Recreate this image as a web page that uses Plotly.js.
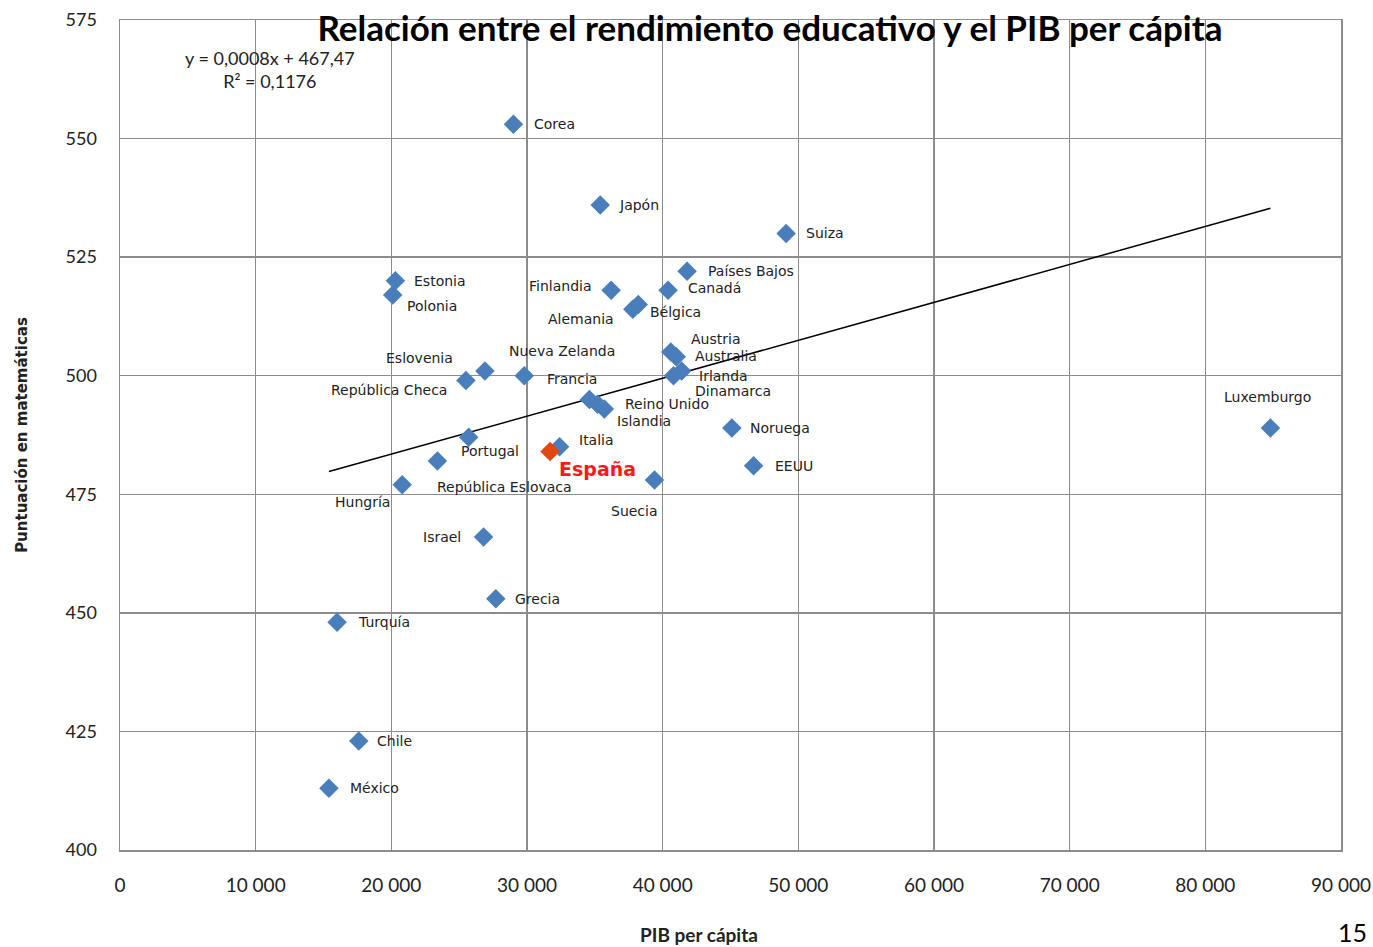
<!DOCTYPE html>
<html>
<head>
<meta charset="utf-8">
<script src="https://cdn.plot.ly/plotly-3.0.1.min.js"></script>
<style>
  html, body { margin: 0; padding: 0; background: #fff; }
  #chart { width: 1373px; height: 947px; }
</style>
</head>
<body>
<div id="chart"></div>
<script>
// países (OCDE), PIB per cápita y puntuación en matemáticas
var countries = ["Corea", "Japón", "Suiza", "Países Bajos", "Finlandia", "Canadá",
  "Alemania", "Bélgica", "Estonia", "Polonia", "Eslovenia", "República Checa",
  "Nueva Zelanda", "Austria", "Australia", "Irlanda", "Dinamarca", "Francia",
  "Reino Unido", "Islandia", "Noruega", "Luxemburgo", "EEUU", "Italia", "España",
  "Portugal", "República Eslovaca", "Hungría", "Suecia", "Israel", "Grecia",
  "Turquía", "Chile", "México"];
var gdp = [29000, 35400, 49100, 41800, 36200, 40400,
  37800, 38200, 20300, 20100, 26900, 25500,
  29800, 40600, 41000, 41400, 40800, 34600,
  35200, 35700, 45100, 84800, 46700, 32400, 31700,
  25700, 23400, 20800, 39400, 26800, 27700,
  16000, 17600, 15400];
var score = [553, 536, 530, 522, 518, 518,
  514, 515, 520, 517, 501, 499,
  500, 505, 504, 501, 500, 495,
  494, 493, 489, 489, 481, 485, 484,
  487, 482, 477, 478, 466, 453,
  448, 423, 413];

// desplazamiento de cada etiqueta respecto a su punto (px)
var labelDx = [41, 39, 39, 64, -51, 46, -52, 37, 45, 39, -65, -77,
  38, 45, 50, 42, 59, -17, 69, 40, 48, -3, 40, 37, 47,
  21, 67, -40, -20, -42, 42, 47, 36, 46];
var labelDy = [0, 0, 0, 0, 4, 2, -10, -7, 0, -11, 13, -10,
  25, 13, 1, -5, -15, 20, 0, -12, 0, 31, 0, 7, -17,
  -14, -26, -17, -31, 0, 0, 0, 0, 0];

// línea de tendencia
var slope = 0.0008;
var intercept = 467.47;
var r2 = 0.1176;

var xTicks = [0, 10000, 20000, 30000, 40000, 50000, 60000, 70000, 80000, 90000];
var xTickText = ["0", "10 000", "20 000", "30 000", "40 000", "50 000", "60 000", "70 000", "80 000", "90 000"];
var yTicks = [400, 425, 450, 475, 500, 525, 550, 575];

var highlight = "España";

var blue = "#4a7ebb";
var red = "#e2470f";

var others = countries.map(function (c, i) { return i; }).filter(function (i) { return countries[i] !== highlight; });
var hi = countries.indexOf(highlight);

var xMin = Math.min.apply(null, gdp);
var xMax = Math.max.apply(null, gdp);

var traces = [
  {
    x: [xMin, xMax],
    y: [slope * xMin + intercept, slope * xMax + intercept],
    mode: "lines",
    line: { color: "#000", width: 1.5 },
    hoverinfo: "skip"
  },
  {
    x: others.map(function (i) { return gdp[i]; }),
    y: others.map(function (i) { return score[i]; }),
    text: others.map(function (i) { return countries[i]; }),
    mode: "markers",
    marker: { symbol: "diamond", size: 15, color: blue },
    hovertemplate: "%{text}: %{x}, %{y}<extra></extra>"
  },
  {
    x: [gdp[hi]],
    y: [score[hi]],
    text: [highlight],
    mode: "markers",
    marker: { symbol: "diamond", size: 15, color: red },
    hovertemplate: "%{text}: %{x}, %{y}<extra></extra>"
  }
];

var annotations = countries.map(function (c, i) {
  var isHi = c === highlight;
  return {
    x: gdp[i], y: score[i], xref: "x", yref: "y",
    text: isHi ? "<b>" + c + "</b>" : c,
    showarrow: false,
    xshift: labelDx[i], yshift: labelDy[i],
    font: isHi ? { family: "DejaVu Sans", size: 19, color: "#ff1a1a" }
               : { family: "DejaVu Sans", size: 14, color: "#222" }
  };
});

annotations.push({
  xref: "paper", yref: "paper",
  x: (270 - 120) / 1221, y: 1 - (69 - 20) / 830,
  xanchor: "center", yanchor: "middle",
  text: "y = " + String(slope).replace(".", ",") + "x + " + String(intercept).replace(".", ",") +
        "<br>R² = " + String(r2).replace(".", ","),
  showarrow: false, align: "center",
  font: { family: "Lato", size: 18, color: "#222" }
});
annotations.push({
  xref: "paper", yref: "paper",
  x: (699 - 120) / 1221, y: -(934 - 850) / 830,
  xanchor: "center", yanchor: "middle",
  text: "<b>PIB per cápita</b>",
  showarrow: false,
  font: { family: "Lato", size: 19, color: "#222" }
});
annotations.push({
  xref: "paper", yref: "paper",
  x: (1369 - 120) / 1221, y: -(932 - 850) / 830,
  xanchor: "right", yanchor: "middle",
  text: "15",
  showarrow: false,
  font: { family: "Lato", size: 25, color: "#000" }
});

var layout = {
  width: 1373, height: 947,
  margin: { l: 120, r: 32, t: 20, b: 97 },
  paper_bgcolor: "#fff",
  plot_bgcolor: "#fff",
  showlegend: false,
  title: {
    text: "<b>Relación entre el rendimiento educativo y el PIB per cápita</b>",
    font: { family: "Lato", size: 35, color: "#000" },
    xref: "container", yref: "container",
    x: 770 / 1373, y: 1 - 29 / 947, xanchor: "center", yanchor: "middle"
  },
  xaxis: {
    range: [0, 90000],
    tickvals: xTicks, ticktext: xTickText,
    showgrid: true, gridcolor: "#8c8c8c", gridwidth: 1.5,
    showline: true, linecolor: "#8c8c8c", linewidth: 1.5, mirror: true,
    zeroline: false,
    ticks: "outside", ticklen: 18, tickcolor: "rgba(0,0,0,0)",
    tickfont: { family: "Lato", size: 19, color: "#222" }
  },
  yaxis: {
    range: [400, 575],
    tickvals: yTicks,
    showgrid: true, gridcolor: "#8c8c8c", gridwidth: 1.5,
    showline: true, linecolor: "#8c8c8c", linewidth: 1.5, mirror: true,
    zeroline: false,
    ticks: "outside", ticklen: 18, tickcolor: "rgba(0,0,0,0)",
    tickfont: { family: "Lato", size: 18, color: "#222" },
    title: { text: "<b>Puntuación en matemáticas</b>", standoff: 34,
             font: { family: "DejaVu Sans", size: 15, color: "#222" } }
  },
  annotations: annotations
};

Plotly.newPlot("chart", traces, layout, { displayModeBar: false, staticPlot: true });
</script>
</body>
</html>
